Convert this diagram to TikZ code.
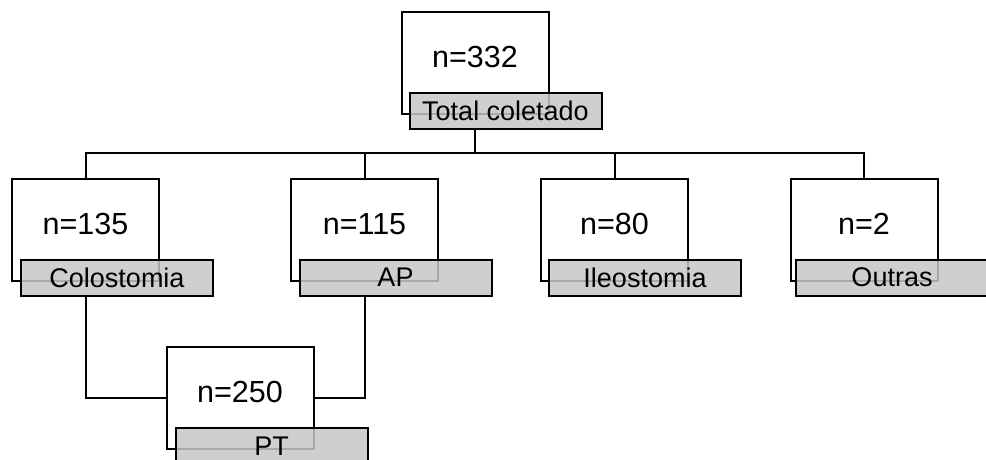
\documentclass[tikz,border=0pt]{standalone}
\usepackage{fontspec}
\setmainfont{Liberation Sans}
\begin{document}
\begin{tikzpicture}[
  x=1pt, y=-1pt,
  every node/.style={align=center},
  countbox/.style={draw=black, fill=white, line width=2pt, inner sep=0pt,
                   minimum width=147pt, minimum height=102pt,
                   font=\fontsize{30.5}{35}\selectfont, text height=20pt, text depth=11pt},
  tagbox/.style={draw=black, fill=black!22, fill opacity=0.85, text opacity=1,
                 line width=2pt, inner sep=0pt,
                 minimum width=192pt, minimum height=36pt,
                 font=\fontsize{27}{31}\selectfont},
  link/.style={draw=black, line width=2pt}
]
\useasboundingbox (0,0) rectangle (986,459);
% caixas com os totais
\node[countbox] (total) at (475,63) {n=332};
\node[countbox] (colo) at (85.5,229.5) {n=135};
\node[countbox] (ap) at (364.5,229.5) {n=115};
\node[countbox] (ileo) at (614.5,229.5) {n=80};
\node[countbox] (outras) at (864,229.5) {n=2};
\node[countbox] (pt) at (240,397.5) {n=250};
% rotulos
\node[tagbox] (totalLbl) at (505.5,110.5) {Total coletado};
\node[tagbox] (coloLbl) at (117,277.5) {Colostomia};
\node[tagbox] (apLbl) at (395.5,277.5) {AP};
\node[tagbox] (ileoLbl) at (645,277.5) {Ileostomia};
\node[tagbox] (outrasLbl) at (892,277.5) {Outras};
\node[tagbox] (ptLbl) at (271.5,446) {PT};
% ligacoes
\coordinate (split) at (475,153);
\draw[link] (total.center |- totalLbl.south) -- (split);
\draw[link] (colo.north) |- (split) -| (outras.north);
\draw[link] (ap.north) -- (ap.north |- split);
\draw[link] (ileo.north) -- (ileo.north |- split);
\draw[link] (colo.center |- coloLbl.south) |- (pt.west);
\draw[link] (ap.center |- apLbl.south) |- (pt.east);
\end{tikzpicture}
\end{document}
